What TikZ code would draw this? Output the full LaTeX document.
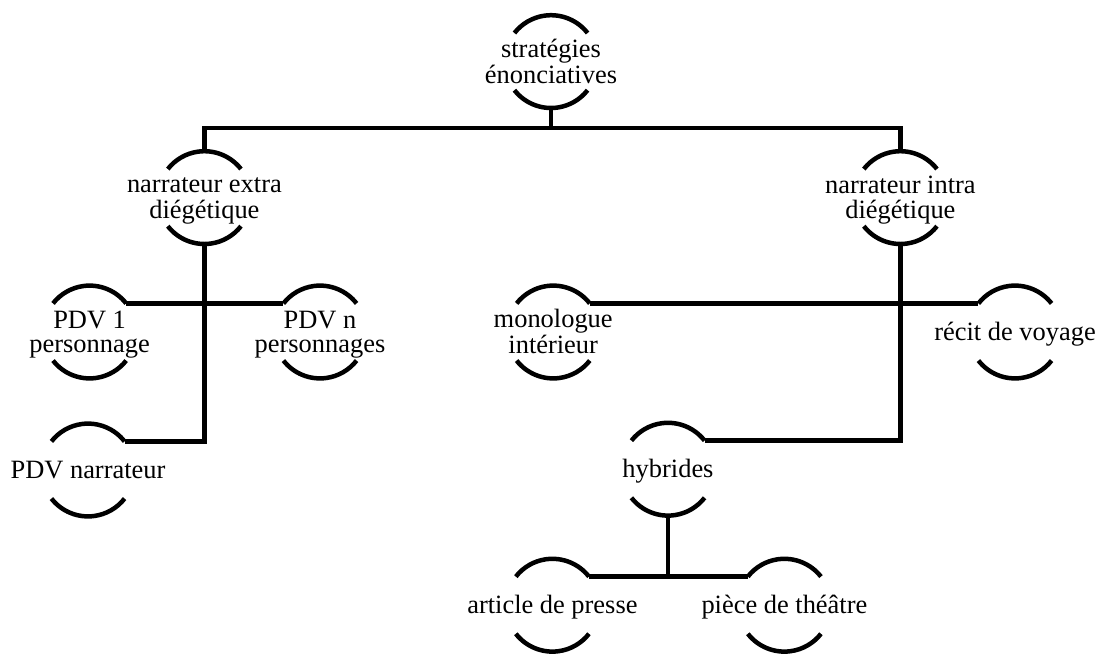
\documentclass[tikz,border=0pt]{standalone}
\usepackage{fontspec}
\setmainfont{Liberation Serif}
\usepackage{tikz}
\usetikzlibrary{calc}
\newcommand{\lbl}[1]{\makebox[0pt]{\raisebox{-6.5pt}[0pt][0pt]{\begin{tabular}{@{}c@{}}#1\end{tabular}}}}

\begin{document}
\begin{tikzpicture}[font=\fontsize{18.8}{17}\selectfont]
  \tikzset{cat/.style={circle, minimum size=2.32cm, inner sep=0pt, outer sep=0pt},
           link/.style={line width=3.2pt, line cap=butt}}
  \useasboundingbox (0,0) rectangle (27.525,-16.325);

  \node[cat] (root)    at (13.775,-1.54) {\lbl{stratégies\\énonciatives}};
  \node[cat] (NE)      at (5.11,-4.94)   {\lbl{narrateur extra\\diégétique}};
  \node[cat] (NI)      at (22.51,-4.94)  {\lbl{narrateur intra\\diégétique}};
  \node[cat] (PDVun)   at (2.24,-8.3)    {\lbl{PDV 1\\personnage}};
  \node[cat] (PDVn)    at (8.0,-8.3)     {\lbl{PDV n\\personnages}};
  \node[cat] (PDVnar)  at (2.2,-11.75)   {\lbl{PDV narrateur}};
  \node[cat] (mono)    at (13.83,-8.3)   {\lbl{monologue\\intérieur}};
  \node[cat] (recit)   at (25.375,-8.3)  {\lbl{récit de voyage}};
  \node[cat] (hyb)     at (16.7,-11.73)  {\lbl{hybrides}};
  \node[cat] (article) at (13.81,-15.13) {\lbl{article de presse}};
  \node[cat] (piece)   at (19.61,-15.13) {\lbl{pièce de théâtre}};

  % the two arcs round every category
  \foreach \c in {root,NE,NI,PDVun,PDVn,PDVnar,mono,recit,hyb,article,piece} {
    \draw[link] (\c.38) arc[start angle=38, end angle=142, radius=1.16cm];
    \draw[link] (\c.218) arc[start angle=218, end angle=322, radius=1.16cm];
  }

  % first split
  \coordinate (bar) at (0,-3.2);
  \draw[link] (root.270) -- (root.270 |- bar);
  \draw[link] (NE.90) -- (NE.90 |- bar) -- (NI.90 |- bar) -- (NI.90);

  % extradiegetic branch
  \draw[link] (NE.270) |- (PDVnar.38);
  \draw[link] (PDVun.38) -- (PDVn.142);

  % intradiegetic branch
  \draw[link] (NI.270) |- (hyb.38);
  \draw[link] (mono.38) -- (recit.142);

  % hybrids
  \draw[link] (hyb.270) -- (hyb.270 |- article.38);
  \draw[link] (article.38) -- (piece.142);
\end{tikzpicture}
\end{document}
